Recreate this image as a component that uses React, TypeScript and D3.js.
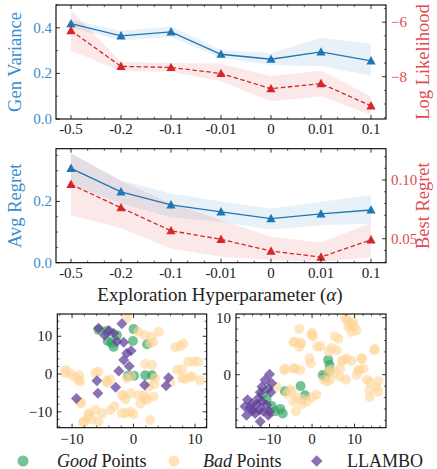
import React from "react";
import * as d3 from "d3";

const categories = ["-0.5", "-0.2", "-0.1", "-0.01", "0", "0.01", "0.1"];

const genVar = [0.418, 0.365, 0.382, 0.284, 0.262, 0.294, 0.255];
const genVarLo = [0.4, 0.345, 0.36, 0.267, 0.237, 0.233, 0.19];
const genVarHi = [0.435, 0.387, 0.406, 0.303, 0.29, 0.355, 0.33];
const logLik = [-6.31, -7.62, -7.66, -7.88, -8.44, -8.25, -9.07];
const logLikLo = [-7.04, -7.8, -7.82, -8.17, -8.91, -8.72, -9.4];
const logLikHi = [-5.55, -7.47, -7.5, -7.52, -7.97, -7.78, -8.72];

const avgRegret = [0.308, 0.231, 0.189, 0.166, 0.144, 0.159, 0.172];
const avgRegretLo = [0.255, 0.193, 0.148, 0.133, 0.108, 0.122, 0.128];
const avgRegretHi = [0.357, 0.268, 0.226, 0.2, 0.177, 0.199, 0.221];
const bestRegret = [0.0963, 0.0764, 0.0568, 0.0495, 0.0395, 0.0344, 0.049];
const bestRegretLo = [0.0702, 0.0589, 0.0418, 0.0347, 0.032, 0.0305, 0.034];
const bestRegretHi = [0.1227, 0.0994, 0.08, 0.066, 0.0517, 0.0466, 0.0636];

const leftGood = [[-5.7,11.7],[-4.4,11.4],[-4.2,8.75],[-3.25,7.2],[-2.7,10.3],[0,11.9],[-0.1,8.75],[2.2,7.9],[-0.9,-0.45],[0.1,-0.45],[1.9,-0.3],[3.0,-0.3],[-3.6,8.2]];
const leftBad = [[-1.1,14.8],[0.8,11.2],[1.8,10.3],[3.0,9.9],[4.1,11.2],[2.7,8.1],[3.2,8.5],[6.8,7.1],[7.6,7.4],[8.1,8.1],[1.9,2.65],[3.0,2.4],[8.9,3.3],[9.75,3.3],[10.5,3.3],[7.05,1.1],[7.9,1.25],[9.5,-0.7],[10.8,-1.6],[9.2,-0.7],[7.9,-1.1],[8.4,-1.3],[-11.1,1.1],[-10.3,0.2],[-9.6,-0.7],[-8.9,-1.6],[-11.1,0.2],[-8.7,-2.0],[-8.8,-0.3],[-6.2,0.2],[-5.7,0.6],[-4.3,-1.8],[-4.3,-2.3],[-3.8,-1.4],[-1.1,-1.1],[-0.4,-0.5],[3.5,-1.1],[3.4,-2.7],[6.0,-2.2],[-1.9,-5.6],[-1.35,-6.7],[-0.4,-5.1],[0.8,-5.6],[1.9,-6.5],[1.1,-7.8],[-3.1,-8.5],[-3.8,-9.5],[-5.1,-10.4],[-6.2,-9.5],[-7.3,-10.9],[-6.8,-12],[-5.7,-12.6],[-8.1,-12.6],[-1.35,-10.3],[-0.5,-10],[0,-10.6],[-1.9,-10.4],[2.7,-12.2],[-8.7,-7.3],[-8.55,-7.8],[-7.3,-10.4],[-7.5,-11.75],[-8.2,-12.8],[3.25,-6],[-1.6,-5.6],[2.5,-3.3],[1.75,-5.6],[2.2,-6.9]];
const leftLlambo = [[-5.7,12.1],[-4.7,10.3],[-3.25,10.8],[-2.7,8.6],[-1.9,13.3],[-1.6,8.4],[-0.4,6.2],[-1.1,5.5],[-1.6,3.7],[-0.7,2.1],[-2.4,0.8],[-5.95,-1.8],[5.7,-1.0],[1.8,-2.9],[-2.9,-3.5],[-5.8,-5.1],[-9.3,-6.45],[5.3,-3.1],[-4.0,11.5]];

const rightGood = [[-11.6,-3.4],[-10.7,-4.4],[-8.7,-6.4],[-6.9,-6.8],[-7.5,-6.0],[-6.4,-2.9],[-2.7,-2.0],[-1.65,-3.6],[3.8,2.6],[4.1,1.7],[2.5,-0.05],[3.1,-0.35],[4.0,0.6],[-9.5,-5.5]];
const rightBad = [[8.2,9.6],[9.3,9.0],[8.5,8.4],[9.9,8.4],[10.5,7.8],[9.3,7.5],[7.8,9.9],[-3,8.0],[-0.1,7.1],[0.2,6.7],[-4.4,5.7],[-2.7,5.5],[-3,4.9],[1.25,4.9],[2.0,5.0],[5.4,6.7],[6.2,6.3],[4.6,4.7],[5.8,4.3],[4.0,4.0],[14.8,4.5],[-4,1.1],[-2.8,0.8],[-6.4,1.1],[-0.6,2.9],[-0.3,2.0],[7,2.3],[8.2,2.9],[9.3,2.4],[11.7,2.75],[12.1,1.1],[11.1,0.8],[10.5,-0.05],[6.6,1.1],[5.4,0.25],[6.6,-0.35],[8,-0.9],[4.2,-0.9],[2.7,-0.9],[3.8,0.5],[12.9,-0.9],[13.6,-1.3],[15.6,-1.1],[15.2,-2.3],[13.5,-2.7],[15.6,-3],[13.6,-3.9],[-8.3,-2.1],[-6,-3.4],[-4.8,-3],[-3.6,-4.0],[-4.4,-4.7],[-2.2,-4.3],[-1.25,-4.7],[-2.4,-5.2],[-0.07,-4.0],[-3.8,-6.4],[-5.2,-2.6],[0.07,7.3],[-4.0,5.8],[-2.6,5.5],[7.4,2.6],[11.7,2.9],[14.6,4.3],[-6.5,0.8],[-4.4,1.1],[4.5,0.8],[10.9,0.8],[3.5,-1.2],[1.0,-3.5],[8.8,8.8],[9.6,9.3]];
const rightLlambo = [[-10.0,0.07],[-11.06,-0.93],[-9.5,-1.5],[-11.8,-2.1],[-10.3,-2.4],[-9.7,-3.1],[-12.2,-3.1],[-15.2,-4.4],[-14,-5.0],[-15.8,-5.6],[-14.6,-5.9],[-13,-5.2],[-11.8,-4.7],[-10.7,-5.3],[-12.4,-6.2],[-11.5,-6.4],[-13.4,-6.8],[-15.4,-7.1],[-10,-6.5],[-12.2,-8.2],[-12.6,-4.1],[-10.3,-7.1],[-14.0,-6.3]];

const FONT = "'Liberation Serif', 'Times New Roman', serif";
const BLUE = "#1f77b4";
const RED = "#d62728";
const BLUE_TXT = "#3a8ccc";
const RED_TXT = "#e04a4f";
const GREEN = "#2ca25f";
const BAD = "#ffd59a";
const PURPLE = "#5e3c99";
const TICK_FS = 15;

const X0 = 56, X1 = 386;

function fmtMinus(v: number, digits: number) {
  const s = v.toFixed(digits);
  return s.replace("-", "\u2212");
}

function triPath(cx: number, cy: number) {
  return `M${cx},${cy - 4.8}L${cx + 4.6},${cy + 3.6}L${cx - 4.6},${cy + 3.6}Z`;
}

function LinePanel(props: any) {
  const { id, top, bottom, lDom, rDom, lMajor, lMinor, rMajor, rMinor, lFmt, rFmt, b, bLo, bHi, r, rLo, rHi, lLabel, rLabel } = props;
  const xp = d3.scalePoint<string>().domain(categories).range([X0, X1]).padding(0.3);
  const xi = d3.scaleLinear().domain([-0.3, 6.3]).range([X0, X1]);
  const yl = d3.scaleLinear().domain(lDom).range([bottom, top]);
  const yr = d3.scaleLinear().domain(rDom).range([bottom, top]);
  const idx = categories.map((_, i) => i);
  const areaL = d3.area<number>().x((i) => xp(categories[i])!).y0((i) => yl(bLo[i])).y1((i) => yl(bHi[i]));
  const areaR = d3.area<number>().x((i) => xp(categories[i])!).y0((i) => yr(rLo[i])).y1((i) => yr(rHi[i]));
  const lineL = d3.line<number>().x((i) => xp(categories[i])!).y((i) => yl(b[i]));
  const lineR = d3.line<number>().x((i) => xp(categories[i])!).y((i) => yr(r[i]));
  const xMinor: number[] = [];
  for (let k = -1; k <= 19; k++) {
    const v = k / 3;
    if (k % 3 !== 0 && v >= -0.3 && v <= 6.3) xMinor.push(v);
  }
  const MJ = 4, MN = 2.2;
  return (
    <g>
      <defs>
        <clipPath id={id}>
          <rect x={X0} y={top} width={X1 - X0} height={bottom - top} />
        </clipPath>
      </defs>
      <g clipPath={`url(#${id})`}>
        <path d={areaR(idx)!} fill={RED} fillOpacity={0.1} />
        <path d={areaL(idx)!} fill={BLUE} fillOpacity={0.1} />
        <path d={lineL(idx)!} fill="none" stroke={BLUE} strokeWidth={1.3} />
        <path d={lineR(idx)!} fill="none" stroke={RED} strokeWidth={1.3} strokeDasharray="4.5,2.5" />
        {idx.map((i) => (
          <path key={"b" + i} d={triPath(xp(categories[i])!, yl(b[i]))} fill={BLUE} />
        ))}
        {idx.map((i) => (
          <path key={"r" + i} d={triPath(xp(categories[i])!, yr(r[i]))} fill={RED} />
        ))}
      </g>
      {categories.map((c) => (
        <g key={c}>
          <line x1={xp(c)} x2={xp(c)} y1={bottom} y2={bottom - MJ} stroke="#000" strokeWidth={0.8} />
          <line x1={xp(c)} x2={xp(c)} y1={top} y2={top + MJ} stroke="#000" strokeWidth={0.8} />
          <text x={xp(c)} y={bottom + 15} textAnchor="middle" fontSize={TICK_FS} fontFamily={FONT} fill="#222">{c}</text>
        </g>
      ))}
      {xMinor.map((v, k) => (
        <g key={"xm" + k}>
          <line x1={xi(v)} x2={xi(v)} y1={bottom} y2={bottom - MN} stroke="#000" strokeWidth={0.6} />
          <line x1={xi(v)} x2={xi(v)} y1={top} y2={top + MN} stroke="#000" strokeWidth={0.6} />
        </g>
      ))}
      {lMajor.map((v: number) => (
        <g key={"lm" + v}>
          <line x1={X0} x2={X0 + MJ} y1={yl(v)} y2={yl(v)} stroke="#000" strokeWidth={0.8} />
          <text x={X0 - 4} y={yl(v) + 5} textAnchor="end" fontSize={TICK_FS} fontFamily={FONT} fill={BLUE_TXT}>{lFmt(v)}</text>
        </g>
      ))}
      {lMinor.map((v: number) => (
        <line key={"ln" + v} x1={X0} x2={X0 + MN} y1={yl(v)} y2={yl(v)} stroke="#000" strokeWidth={0.6} />
      ))}
      {rMajor.map((v: number) => (
        <g key={"rm" + v}>
          <line x1={X1} x2={X1 - MJ} y1={yr(v)} y2={yr(v)} stroke="#000" strokeWidth={0.8} />
          <text x={X1 + 5} y={yr(v) + 5} textAnchor="start" fontSize={TICK_FS} fontFamily={FONT} fill={RED_TXT}>{rFmt(v)}</text>
        </g>
      ))}
      {rMinor.map((v: number) => (
        <line key={"rn" + v} x1={X1} x2={X1 - MN} y1={yr(v)} y2={yr(v)} stroke="#000" strokeWidth={0.6} />
      ))}
      <rect x={X0} y={top} width={X1 - X0} height={bottom - top} fill="none" stroke="#000" strokeWidth={1.1} />
      <text transform={`translate(21,${(top + bottom) / 2}) rotate(-90)`} textAnchor="middle" fontSize={18.5} fontFamily={FONT} fill={BLUE_TXT}>{lLabel}</text>
      <text transform={`translate(429,${(top + bottom) / 2}) rotate(-90)`} textAnchor="middle" fontSize={18.5} fontFamily={FONT} fill={RED_TXT}>{rLabel}</text>
    </g>
  );
}

function ScatterPanel(props: any) {
  const { id, x0, x1, top, bottom, xDom, yDom, good, bad, llambo } = props;
  const sx = d3.scaleLinear().domain(xDom).range([x0, x1]);
  const sy = d3.scaleLinear().domain(yDom).range([bottom, top]);
  const xMaj = [-10, 0, 10];
  const yMaj = [-10, 0, 10].filter((v) => v >= yDom[0] && v <= yDom[1]);
  const xMin = d3.range(Math.ceil(xDom[0] / 2) * 2, xDom[1], 2).filter((v) => v % 10 !== 0);
  const yMin = d3.range(Math.ceil(yDom[0] / 2) * 2, yDom[1], 2).filter((v) => v % 10 !== 0);
  const MJ = 4, MN = 2.2;
  return (
    <g>
      <defs>
        <clipPath id={id}>
          <rect x={x0} y={top} width={x1 - x0} height={bottom - top} />
        </clipPath>
      </defs>
      <g clipPath={`url(#${id})`}>
        {good.map((p: number[], k: number) => (
          <circle key={"g" + k} cx={sx(p[0])} cy={sy(p[1])} r={5} fill={GREEN} fillOpacity={0.65} />
        ))}
        {bad.map((p: number[], k: number) => (
          <circle key={"b" + k} cx={sx(p[0])} cy={sy(p[1])} r={5} fill={BAD} fillOpacity={0.6} />
        ))}
        {llambo.map((p: number[], k: number) => {
          const cx = sx(p[0]), cy = sy(p[1]);
          return <path key={"l" + k} d={`M${cx},${cy - 5.5}L${cx + 5.5},${cy}L${cx},${cy + 5.5}L${cx - 5.5},${cy}Z`} fill={PURPLE} fillOpacity={0.72} />;
        })}
      </g>
      {xMaj.map((v) => (
        <g key={"xm" + v}>
          <line x1={sx(v)} x2={sx(v)} y1={bottom} y2={bottom - MJ} stroke="#000" strokeWidth={0.8} />
          <line x1={sx(v)} x2={sx(v)} y1={top} y2={top + MJ} stroke="#000" strokeWidth={0.8} />
          <text x={sx(v)} y={bottom + 16} textAnchor="middle" fontSize={TICK_FS} fontFamily={FONT} fill="#222">{fmtMinus(v, 0)}</text>
        </g>
      ))}
      {xMin.map((v) => (
        <g key={"xn" + v}>
          <line x1={sx(v)} x2={sx(v)} y1={bottom} y2={bottom - MN} stroke="#000" strokeWidth={0.6} />
          <line x1={sx(v)} x2={sx(v)} y1={top} y2={top + MN} stroke="#000" strokeWidth={0.6} />
        </g>
      ))}
      {yMaj.map((v) => (
        <g key={"ym" + v}>
          <line x1={x0} x2={x0 + MJ} y1={sy(v)} y2={sy(v)} stroke="#000" strokeWidth={0.8} />
          <line x1={x1} x2={x1 - MJ} y1={sy(v)} y2={sy(v)} stroke="#000" strokeWidth={0.8} />
          <text x={x0 - 5} y={sy(v) + 5} textAnchor="end" fontSize={TICK_FS} fontFamily={FONT} fill="#222">{fmtMinus(v, 0)}</text>
        </g>
      ))}
      {yMin.map((v) => (
        <g key={"yn" + v}>
          <line x1={x0} x2={x0 + MN} y1={sy(v)} y2={sy(v)} stroke="#000" strokeWidth={0.6} />
          <line x1={x1} x2={x1 - MN} y1={sy(v)} y2={sy(v)} stroke="#000" strokeWidth={0.6} />
        </g>
      ))}
      <rect x={x0} y={top} width={x1 - x0} height={bottom - top} fill="none" stroke="#000" strokeWidth={1.1} />
    </g>
  );
}

export default function App() {
  const LY = 461;
  return (
    <svg width={437} height={469} style={{ position: "absolute", left: 0, top: 0, background: "#fff" }}>
      <LinePanel
        id="c1" top={5} bottom={119}
        lDom={[0, 0.5]} rDom={[-9.55, -5.37]}
        lMajor={[0, 0.2, 0.4]} lMinor={[0.1, 0.3, 0.5]}
        rMajor={[-6, -8]} rMinor={[-5.5, -6.5, -7, -7.5, -8.5, -9, -9.5]}
        lFmt={(v: number) => v.toFixed(1)} rFmt={(v: number) => fmtMinus(v, 0)}
        b={genVar} bLo={genVarLo} bHi={genVarHi}
        r={logLik} rLo={logLikLo} rHi={logLikHi}
        lLabel="Gen Variance" rLabel="Log Likelihood"
      />
      <LinePanel
        id="c2" top={148.7} bottom={262.7}
        lDom={[0, 0.372]} rDom={[0.0296, 0.1267]}
        lMajor={[0, 0.2]} lMinor={[0.05, 0.1, 0.15, 0.25, 0.3, 0.35]}
        rMajor={[0.05, 0.1]} rMinor={[0.03, 0.04, 0.06, 0.07, 0.08, 0.09, 0.11, 0.12]}
        lFmt={(v: number) => v.toFixed(1)} rFmt={(v: number) => v.toFixed(2)}
        b={avgRegret} bLo={avgRegretLo} bHi={avgRegretHi}
        r={bestRegret} rLo={bestRegretLo} rHi={bestRegretHi}
        lLabel="Avg Regret" rLabel="Best Regret"
      />
      <text x={220} y={301} textAnchor="middle" fontSize={19} fontFamily={FONT} fill="#222">
        Exploration Hyperparameter (<tspan fontStyle="italic">α</tspan>)
      </text>
      <ScatterPanel id="s1" x0={57.3} x1={206.7} top={314} bottom={427.7} xDom={[-12.4, 11.9]} yDom={[-14.2, 15.9]}
        good={leftGood} bad={leftBad} llambo={leftLlambo} />
      <ScatterPanel id="s2" x0={236} x1={386} top={314} bottom={427.7} xDom={[-17.9, 17.4]} yDom={[-9.3, 10.65]}
        good={rightGood} bad={rightBad} llambo={rightLlambo} />
      <circle cx={23} cy={LY} r={5.5} fill={GREEN} fillOpacity={0.65} />
      <text x={57} y={LY + 5.5} fontSize={18} fontFamily={FONT} fill="#222"><tspan fontStyle="italic">Good</tspan> Points</text>
      <circle cx={174} cy={LY} r={5.5} fill={BAD} fillOpacity={0.7} />
      <text x={203} y={LY + 5.5} fontSize={18} fontFamily={FONT} fill="#222"><tspan fontStyle="italic">Bad</tspan> Points</text>
      <path d={`M316.7,${LY - 5.8}L322.5,${LY}L316.7,${LY + 5.8}L310.9,${LY}Z`} fill={PURPLE} fillOpacity={0.72} />
      <text x={347} y={LY + 5.5} fontSize={18} fontFamily={FONT} fill="#222">LLAMBO</text>
    </svg>
  );
}
